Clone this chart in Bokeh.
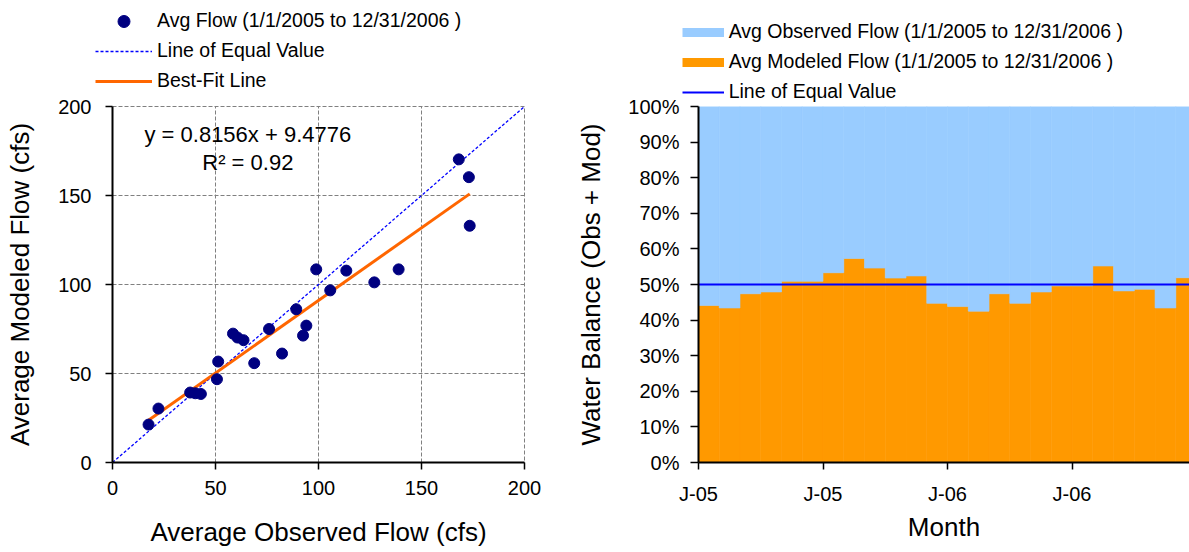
from bokeh.plotting import figure
from bokeh.models import Range1d, Legend, LegendItem, Label, FixedTicker, ColumnDataSource, GridBox, Row
from bokeh.embed import file_html
from bokeh.resources import INLINE

# ---------------- data: scatter (left) ----------------
obs_flow = [17.5, 22.3, 37.7, 40.2, 42.9, 50.7, 51.3, 58.5, 60.7, 63.6, 68.8, 76.0,
            82.3, 89.2, 92.5, 94.1, 98.9, 105.7, 113.5, 127.1, 138.9, 168.1, 173.0, 173.4]
mod_flow = [21.3, 30.3, 39.3, 38.9, 38.5, 46.8, 56.7, 72.4, 70.2, 68.7, 55.8, 75.0,
            61.2, 86.1, 71.3, 76.9, 108.5, 96.7, 107.8, 101.2, 108.5, 170.3, 160.3, 133.0]
fit_slope = 0.8156
fit_intercept = 9.4776
r_squared = 0.92
flow_ticks = [0, 50, 100, 150, 200]

# ---------------- data: water balance (right) ----------------
month_labels = ["Jan-05", "Feb-05", "Mar-05", "Apr-05", "May-05", "Jun-05",
                "Jul-05", "Aug-05", "Sep-05", "Oct-05", "Nov-05", "Dec-05",
                "Jan-06", "Feb-06", "Mar-06", "Apr-06", "May-06", "Jun-06",
                "Jul-06", "Aug-06", "Sep-06", "Oct-06", "Nov-06", "Dec-06"]
mod_share = [44.1, 43.4, 47.4, 47.9, 50.9, 50.9, 53.3, 57.3, 54.6, 51.8, 52.4, 44.7,
             43.8, 42.5, 47.4, 44.7, 47.9, 49.6, 49.6, 55.2, 48.2, 48.7, 43.4, 51.9]
obs_share = [55.9, 56.6, 52.6, 52.1, 49.1, 49.1, 46.7, 42.7, 45.4, 48.2, 47.6, 55.3,
             56.2, 57.5, 52.6, 55.3, 52.1, 50.4, 50.4, 44.8, 51.8, 51.3, 56.6, 48.1]
month_tick_pos = [0, 6, 12, 18]
month_tick_labels = ["J-05", "J-05", "J-06", "J-06"]
share_ticks = [0, 10, 20, 30, 40, 50, 60, 70, 80, 90, 100]
equal_share = 50

FONT = "Liberation Sans"
TICK_FS = "20px"
TITLE_FS = "26px"
LEG_FS = "19.5px"

C_POINT = "#000080"
C_EQUAL = "#0000FF"
C_FIT = "#FF6600"
C_OBS = "#99CCFF"
C_MOD = "#FF9900"
NAN = float("nan")


def style_axis(ax, label, standoff_lbl, standoff_title, tick_out):
    ax.axis_label = label
    ax.axis_label_text_font = FONT
    ax.axis_label_text_font_size = TITLE_FS
    ax.axis_label_text_font_style = "normal"
    ax.axis_label_text_color = "black"
    ax.axis_label_standoff = standoff_title
    ax.major_label_text_font = FONT
    ax.major_label_text_font_size = TICK_FS
    ax.major_label_text_color = "black"
    ax.major_label_standoff = standoff_lbl
    ax.major_tick_out = tick_out
    ax.major_tick_in = 0
    ax.minor_tick_out = 0
    ax.minor_tick_in = 0
    ax.axis_line_color = "black"
    ax.axis_line_width = 2
    ax.major_tick_line_color = "black"
    ax.major_tick_line_width = 1.5


def style_legend(leg, glyph_w):
    leg.glyph_width = glyph_w
    leg.glyph_height = 30
    leg.label_standoff = 5
    leg.spacing = 0
    leg.padding = 0
    leg.margin = 0
    leg.border_line_color = None
    leg.background_fill_alpha = 0
    leg.label_text_font = FONT
    leg.label_text_font_size = LEG_FS
    leg.label_text_color = "black"


# ---------------- left figure ----------------
p1 = figure(width=570, height=552, x_range=Range1d(flow_ticks[0], flow_ticks[-1]),
            y_range=Range1d(flow_ticks[0], flow_ticks[-1]),
            output_backend="svg", toolbar_location=None,
            min_border_left=112, min_border_right=46, min_border_top=106, min_border_bottom=90)
p1.background_fill_color = "white"
p1.border_fill_color = "white"
p1.outline_line_color = "#808080"
p1.outline_line_dash = "4 2"
p1.xaxis.ticker = FixedTicker(ticks=flow_ticks)
p1.yaxis.ticker = FixedTicker(ticks=flow_ticks)
p1.xgrid.ticker = FixedTicker(ticks=flow_ticks)
p1.ygrid.ticker = FixedTicker(ticks=flow_ticks)
for g in (p1.xgrid, p1.ygrid):
    g.grid_line_color = "#808080"
    g.grid_line_dash = "4 2"
    g.grid_line_width = 1
style_axis(p1.xaxis[0], "Average Observed Flow (cfs)", 11, 19, 7)
style_axis(p1.yaxis[0], "Average Modeled Flow (cfs)", 14, 20, 7)

p1.line(x=[flow_ticks[0], flow_ticks[-1]], y=[flow_ticks[0], flow_ticks[-1]],
        line_color=C_EQUAL, line_dash="3 2", line_width=1.3)
fit_x = [min(obs_flow), max(obs_flow)]
fit_y = [fit_slope * v + fit_intercept for v in fit_x]
p1.line(x=fit_x, y=fit_y, line_color=C_FIT, line_width=3)
p1.scatter(x=obs_flow, y=mod_flow, size=11, fill_color=C_POINT, line_color=C_POINT)

p1.add_layout(Label(x=65.7, y=184.1, text=f"y = {fit_slope}x + {fit_intercept}",
                    text_align="center", text_baseline="middle",
                    text_font=FONT, text_font_size="22px", text_color="black"))
p1.add_layout(Label(x=65.7, y=168.4, text=f"R\u00b2 = {r_squared}",
                    text_align="center", text_baseline="middle",
                    text_font=FONT, text_font_size="22px", text_color="black"))

# ---------------- right figure ----------------
n_months = len(month_labels)
src = ColumnDataSource(dict(
    x=[i + 0.5 for i in range(n_months)],
    month=month_labels,
    mod=mod_share,
    obs=obs_share,
))
p2 = figure(width=619, height=552, x_range=Range1d(0, 23.66),
            y_range=Range1d(share_ticks[0], share_ticks[-1]),
            output_backend="svg", toolbar_location=None,
            min_border_left=128, min_border_right=0, min_border_top=105, min_border_bottom=85)
p2.outline_line_color = None
p2.background_fill_color = "white"
p2.border_fill_color = "white"
p2.xgrid.visible = False
p2.ygrid.visible = False
p2.vbar_stack(["mod", "obs"], x="x", width=1.0, color=[C_MOD, C_OBS],
              line_color=[C_MOD, C_OBS], line_width=0.6, source=src)
p2.line(x=[0, n_months], y=[equal_share, equal_share], line_color=C_EQUAL, line_width=2)

p2.xaxis.ticker = FixedTicker(ticks=month_tick_pos)
p2.xaxis.major_label_overrides = {t: l for t, l in zip(month_tick_pos, month_tick_labels)}
p2.yaxis.ticker = FixedTicker(ticks=share_ticks)
p2.yaxis.major_label_overrides = {t: f"{t}%" for t in share_ticks}
style_axis(p2.xaxis[0], "Month", 13, 4, 7)
style_axis(p2.yaxis[0], "Water Balance (Obs + Mod)", 11, 19, 8)

# ---------------- legend overlay (transparent, spans the top of both charts) ----------------
LEG_H = 110
lf = figure(width=1189, height=LEG_H, x_range=Range1d(0, 1189), y_range=Range1d(0, LEG_H),
            output_backend="svg", toolbar_location=None, x_axis_type=None, y_axis_type=None,
            min_border_left=0, min_border_right=0, min_border_top=0, min_border_bottom=0)
lf.outline_line_color = None
lf.background_fill_color = None
lf.border_fill_color = None
lf.grid.visible = False
k_sc = lf.scatter(x=[NAN], y=[NAN], size=11, fill_color=C_POINT, line_color=C_POINT)
k_eq = lf.line(x=[NAN], y=[NAN], line_color=C_EQUAL, line_dash="3 2", line_width=1.3)
k_fit = lf.line(x=[NAN], y=[NAN], line_color=C_FIT, line_width=3)
k_obs = lf.line(x=[NAN], y=[NAN], line_color=C_OBS, line_width=9)
k_mod = lf.line(x=[NAN], y=[NAN], line_color=C_MOD, line_width=9)
k_eq2 = lf.line(x=[NAN], y=[NAN], line_color=C_EQUAL, line_width=2)

leg1 = Legend(items=[
    LegendItem(label="Avg Flow (1/1/2005 to 12/31/2006 )", renderers=[k_sc]),
    LegendItem(label="Line of Equal Value", renderers=[k_eq]),
    LegendItem(label="Best-Fit Line", renderers=[k_fit]),
], location=(95, LEG_H - 95.7))
style_legend(leg1, 57)
lf.add_layout(leg1)

leg2 = Legend(items=[
    LegendItem(label="Avg Observed Flow (1/1/2005 to 12/31/2006 )", renderers=[k_obs]),
    LegendItem(label="Avg Modeled Flow (1/1/2005 to 12/31/2006 )", renderers=[k_mod]),
    LegendItem(label="Line of Equal Value", renderers=[k_eq2]),
], location=(681.7, LEG_H - 106.7))
style_legend(leg2, 42)
lf.add_layout(leg2)

charts = Row(children=[p1, p2], spacing=0)
layout = GridBox(children=[(charts, 0, 0), (lf, 0, 0)])
open("out.html", "w").write(file_html(layout, INLINE))
